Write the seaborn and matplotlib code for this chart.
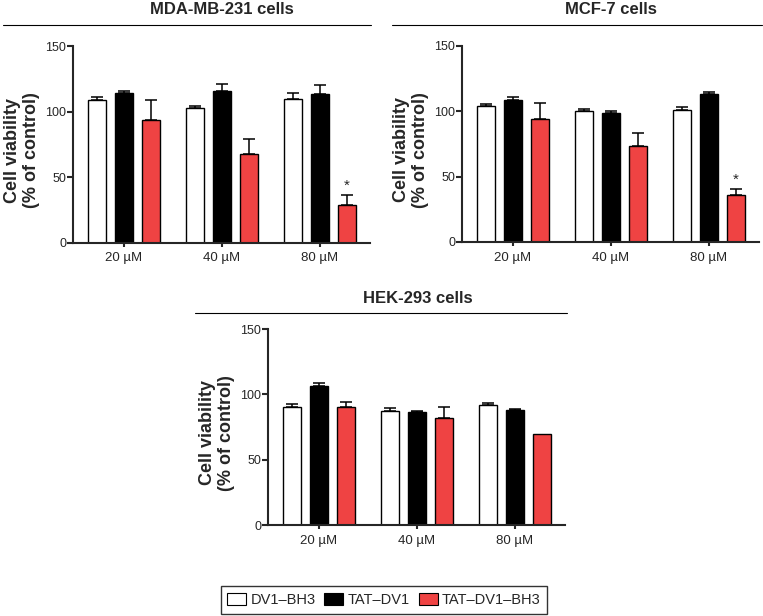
import numpy as np
import pandas as pd
import matplotlib
matplotlib.use("Agg")
import matplotlib.pyplot as plt
from matplotlib.lines import Line2D
from matplotlib.patches import Patch
import seaborn as sns

# concentrations and peptides
doses = ["20 µM", "40 µM", "80 µM"]
peptides = ["DV1–BH3", "TAT–DV1", "TAT–DV1–BH3"]
colours = ["white", "black", "#EF4343"]

# MDA-MB-231 (mean, upper SD)
mda_dv1 = [109.2, 102.6, 110.0]
mda_tat = [114.8, 116.3, 113.5]
mda_both = [93.6, 68.1, 28.5]
mda_dv1_err = [2.3, 2.2, 4.7]
mda_tat_err = [0.8, 4.9, 7.0]
mda_both_err = [15.8, 11.2, 8.1]

# MCF-7
mcf_dv1 = [103.8, 99.9, 101.2]
mcf_tat = [108.9, 98.6, 113.0]
mcf_both = [93.8, 73.3, 36.3]
mcf_dv1_err = [1.7, 1.8, 2.3]
mcf_tat_err = [1.8, 1.8, 1.5]
mcf_both_err = [12.2, 10.5, 4.3]

# HEK-293
hek_dv1 = [90.3, 87.5, 91.6]
hek_tat = [106.6, 86.7, 88.3]
hek_both = [90.6, 81.6, 69.6]
hek_dv1_err = [2.0, 2.3, 2.0]
hek_tat_err = [1.8, 0.8, 0.7]
hek_both_err = [3.5, 8.5, 0.0]

sns.set_style("ticks")
plt.rcParams["font.family"] = ["Liberation Sans", "DejaVu Sans"]


def make_df(a, b, c, ea, eb, ec):
    rows = []
    for pep, vals, errs in zip(peptides, [a, b, c], [ea, eb, ec]):
        for d, v, e in zip(doses, vals, errs):
            rows.append({"dose": d, "peptide": pep, "viability": v, "sd": e})
    return pd.DataFrame(rows)


def panel(ax, df, stars=()):
    sns.barplot(data=df, x="dose", y="viability", hue="peptide",
                hue_order=peptides, order=doses, palette=colours,
                width=0.825, gap=0.33, edgecolor="black", linewidth=1,
                errorbar=None, legend=False, saturation=1, ax=ax)
    for pep, cont in zip(peptides, ax.containers):
        sub = df[df["peptide"] == pep].set_index("dose").loc[doses]
        for dose, bar, e in zip(doses, cont, sub["sd"]):
            x = bar.get_x() + bar.get_width() / 2
            h = bar.get_height()
            if e > 0:
                ax.errorbar(x, h, yerr=[[0], [e]], fmt="none", ecolor="black",
                            elinewidth=1.1, capsize=4, capthick=1.1, zorder=1)
            if (pep, dose) in stars:
                ax.text(x, h + e + 1.5, "*", ha="center", va="bottom",
                        fontsize=11)
    ax.set_ylim(0, 150)
    ax.set_xlim(-0.52, 2.51)
    ax.set_yticks([0, 50, 100, 150])
    ax.set_xlabel("")
    ax.set_ylabel("Cell viability\n(% of control)", fontsize=13,
                  fontweight="bold", linespacing=1.15)
    ax.yaxis.set_label_coords(-0.11, 0.47)
    ax.tick_params(axis="y", labelsize=9, width=1.5, length=4, pad=1)
    ax.tick_params(axis="x", labelsize=9.5, width=1.5, length=3, pad=4)
    for s in ["left", "bottom"]:
        ax.spines[s].set_linewidth(1.5)
    sns.despine(ax=ax)


W, H = 763, 616
fig = plt.figure(figsize=(W / 100, H / 100), dpi=100)


def add_ax(left, top, bottom, width=297):
    return fig.add_axes([left / W, 1 - bottom / H, width / W, (bottom - top) / H])


ax1 = add_ax(73, 46.5, 242.7)
ax2 = add_ax(462, 46, 242)
ax3 = add_ax(268, 329, 525)

panel(ax1, make_df(mda_dv1, mda_tat, mda_both, mda_dv1_err, mda_tat_err, mda_both_err),
      stars=[("TAT–DV1–BH3", "80 µM")])
panel(ax2, make_df(mcf_dv1, mcf_tat, mcf_both, mcf_dv1_err, mcf_tat_err, mcf_both_err),
      stars=[("TAT–DV1–BH3", "80 µM")])
panel(ax3, make_df(hek_dv1, hek_tat, hek_both, hek_dv1_err, hek_tat_err, hek_both_err))

# panel titles with rule underneath
titles = [("MDA-MB-231 cells", 221.5, 9, 3, 371, 25),
          ("MCF-7 cells", 611, 9, 392, 762, 25),
          ("HEK-293 cells", 417.5, 298, 195, 567, 313)]
for t, cx, ty, x0, x1, ly in titles:
    fig.text(cx / W, 1 - ty / H, t, ha="center", va="center",
             fontsize=12, fontweight="bold")
    fig.add_artist(Line2D([x0 / W, x1 / W], [1 - ly / H, 1 - ly / H],
                          color="black", linewidth=0.8))

handles = [Patch(facecolor=c, edgecolor="black", linewidth=0.8) for c in colours]
fig.legend(handles, peptides, loc="center", bbox_to_anchor=(384 / W, 1 - 600 / H),
           ncol=3, frameon=True, fancybox=False, edgecolor="black",
           fontsize=10.5, handlelength=1.3, handleheight=0.8, handletextpad=0.3,
           columnspacing=0.6, borderpad=0.45, borderaxespad=0)

fig.savefig("out.png", dpi=100)
